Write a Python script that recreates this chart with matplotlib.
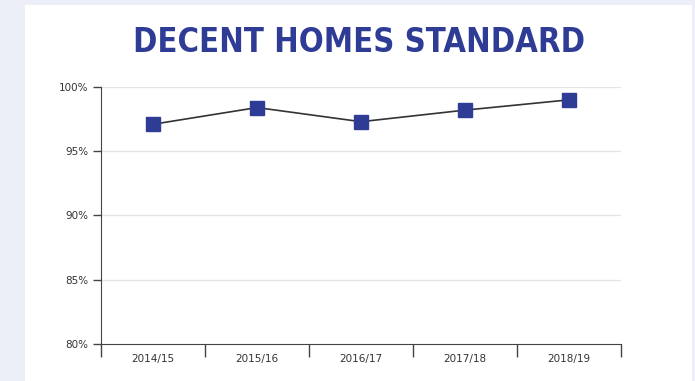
import matplotlib.pyplot as plt
from matplotlib.patches import Rectangle

# ---------- data ----------
years  = ["2014/15", "2015/16", "2016/17", "2017/18", "2018/19"]
pct    = [97.1, 98.4, 97.3, 98.2, 99.0]
yticks = [80, 85, 90, 95, 100]
# --------------------------

navy = "#2e3c96"
W, H = 695, 381

fig = plt.figure(figsize=(W / 100, H / 100), dpi=100)
fig.patch.set_facecolor("#eceef8")
fig.patches.append(Rectangle((25 / W, 0), 667 / W, 376 / H, transform=fig.transFigure,
                             facecolor="white", edgecolor="none", zorder=-5))

fig.text(359 / W, 1 - 42 / H, "DECENT HOMES STANDARD", ha="center", va="center",
         fontsize=23.5, fontweight="heavy", fontstretch="condensed", color=navy,
         family=["DejaVu Sans"])

ax = fig.add_axes([101 / W, 1 - 344 / H, 520 / W, 257 / H])
ax.set_zorder(2)
ax.set_facecolor("none")
x = list(range(len(years)))
ax.plot(x, pct, color="#333333", lw=1.2, marker="s", ms=10,
        mfc=navy, mec=navy, zorder=3)

ax.set_xlim(-0.5, len(years) - 0.5)
ax.set_ylim(80, 100)
ax.set_yticks(yticks)
ax.set_yticklabels([f"{v}%" for v in yticks], fontsize=7.5, color="#333333")
ax.set_xticks(x)
ax.set_xticklabels(years, fontsize=7.5, color="#333333")
ax.tick_params(axis="x", length=0, pad=7)
ax.tick_params(axis="y", length=6, width=1, color="#444444", pad=3)

# category separators on the x axis
ax.set_xticks([i - 0.5 for i in range(len(years) + 1)], minor=True)
ax.tick_params(axis="x", which="minor", length=9, width=1, color="#444444")

for v in yticks[1:]:
    ax.axhline(v, color="#e4e4e4", lw=0.9, zorder=1)

for s in ["top", "right"]:
    ax.spines[s].set_visible(False)
ax.spines["left"].set_color("#444444")
ax.spines["bottom"].set_color("#444444")

fig.savefig("out.png", dpi=100, facecolor=fig.get_facecolor())
